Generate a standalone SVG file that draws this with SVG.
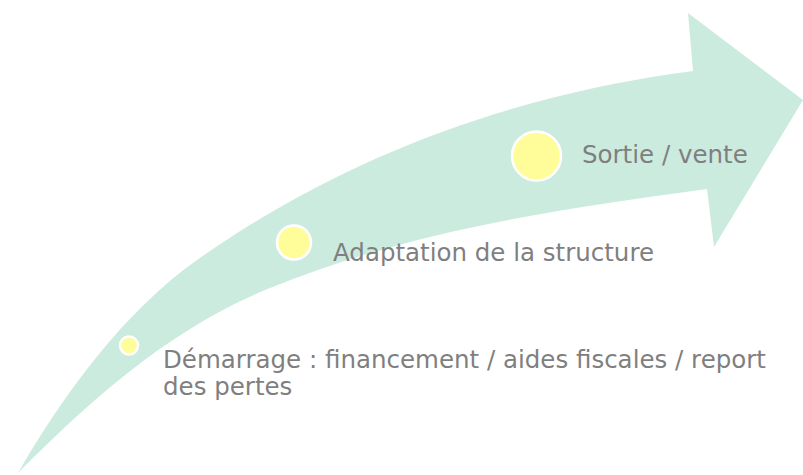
<svg xmlns="http://www.w3.org/2000/svg" width="803" height="475" viewBox="0 0 803 475">
<style>
.arrow{fill:#CCEBDF;stroke:none}
.dot{fill:#FFFD9A;stroke:#FFFFFF;stroke-width:2.5}
.lbl{font-family:"DejaVu Sans","Liberation Sans",sans-serif;font-size:24.5px;fill:#7F7F7F}
</style>
<rect width="803" height="475" fill="#FFFFFF"/>
<g id="connectors">
<path id="arrow" class="arrow" d="M18,473 C63,394.7 123.6,312 197,260 C344,156 515,94 693,71 L688,13 L803,100 L714,247 L707,189 C539,212 409,232 270,288 C172.6,327 91.5,398.5 18,473 Z"/>
</g>
<g id="node-demarrage">
<circle class="dot" cx="129" cy="345.5" r="9"/>
<text class="lbl" x="163" y="368">Démarrage : financement / aides fiscales / report</text>
<text class="lbl" x="163" y="395">des pertes</text>
</g>
<g id="node-adaptation">
<circle class="dot" cx="294" cy="242.5" r="17"/>
<text class="lbl" x="333" y="261">Adaptation de la structure</text>
</g>
<g id="node-sortie">
<circle class="dot" cx="536.5" cy="156" r="24.5"/>
<text class="lbl" x="582" y="163">Sortie / vente</text>
</g>
</svg>
